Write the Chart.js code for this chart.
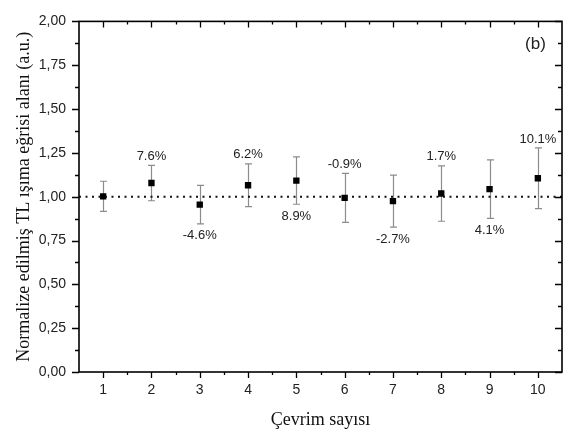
<!DOCTYPE html>
<html>
<head>
<meta charset="utf-8">
<script src="https://cdn.jsdelivr.net/npm/chart.js@4.4.1/dist/chart.umd.min.js"></script>
<style>
html,body{margin:0;padding:0;background:#fff;}
#wrap{width:572px;height:437px;}
</style>
</head>
<body>
<div id="wrap"><canvas id="c" width="572" height="437"></canvas></div>
<script>
const cycles = [1, 2, 3, 4, 5, 6, 7, 8, 9, 10];
const values = [1.002, 1.078, 0.955, 1.065, 1.092, 0.993, 0.975, 1.018, 1.043, 1.105];
const errors = [0.086, 0.101, 0.110, 0.122, 0.135, 0.140, 0.148, 0.158, 0.167, 0.173];
const labels = ['', '7.6%', '-4.6%', '6.2%', '8.9%', '-0.9%', '-2.7%', '1.7%', '4.1%', '10.1%'];
const labelSide = ['', 'above', 'below', 'above', 'below', 'above', 'below', 'above', 'below', 'above'];
const refLevel = 1.0;
const xRange = [0.5, 10.5];
const yRange = [0, 2];
const yTickStep = 0.25;
const panelLabel = '(b)';

const points = cycles.map((c, i) => ({x: c, y: values[i]}));

const decor = {
  id: 'decor',
  beforeDatasetsDraw(chart) {
    const {ctx, scales: {x, y}} = chart;
    ctx.save();
    ctx.strokeStyle = '#8c8c8c';
    ctx.lineWidth = 1.2;
    cycles.forEach((c, i) => {
      const px = Math.round(x.getPixelForValue(c)) + 0.5;
      const top = y.getPixelForValue(values[i] + errors[i]);
      const bot = y.getPixelForValue(values[i] - errors[i]);
      ctx.beginPath();
      ctx.moveTo(px, top); ctx.lineTo(px, bot);
      ctx.moveTo(px - 3.5, top); ctx.lineTo(px + 3.5, top);
      ctx.moveTo(px - 3.5, bot); ctx.lineTo(px + 3.5, bot);
      ctx.stroke();
    });
    ctx.restore();
  },
  afterDraw(chart) {
    const {ctx, chartArea: a, scales: {x, y}} = chart;
    ctx.save();
    // frame
    ctx.strokeStyle = '#000';
    ctx.lineWidth = 1.6;
    ctx.strokeRect(a.left, a.top, a.right - a.left, a.bottom - a.top);
    ctx.lineWidth = 1.3;
    ctx.beginPath();
    // x ticks
    for (let v = 1; v <= 10.0001; v += 0.5) {
      const px = Math.round(x.getPixelForValue(v)) + 0.5;
      const major = Math.abs(v - Math.round(v)) < 1e-6;
      const len = major ? 6 : 3;
      ctx.moveTo(px, a.bottom); ctx.lineTo(px, a.bottom + len);
      ctx.moveTo(px, a.top); ctx.lineTo(px, a.top + len);
    }
    // y ticks
    for (let v = 0; v <= 2.0001; v += yTickStep / 2) {
      const py = Math.round(y.getPixelForValue(v)) + 0.5;
      const major = Math.abs(v / yTickStep - Math.round(v / yTickStep)) < 1e-6;
      const len = major ? 7 : 4;
      ctx.moveTo(a.left, py); ctx.lineTo(a.left - len, py);
      ctx.moveTo(a.right, py); ctx.lineTo(a.right - len, py);
    }
    ctx.stroke();
    // percentage labels
    ctx.fillStyle = '#222';
    ctx.font = '13px "Liberation Sans", Arial, sans-serif';
    ctx.textAlign = 'center';
    ctx.textBaseline = 'middle';
    cycles.forEach((c, i) => {
      if (!labels[i]) return;
      const px = x.getPixelForValue(c);
      if (labelSide[i] === 'above') {
        ctx.fillText(labels[i], px, y.getPixelForValue(values[i] + errors[i]) - 9);
      } else {
        ctx.fillText(labels[i], px, y.getPixelForValue(values[i] - errors[i]) + 12);
      }
    });
    // panel label
    ctx.font = '17px "Liberation Sans", Arial, sans-serif';
    ctx.fillText(panelLabel, x.getPixelForValue(9.95), y.getPixelForValue(1.87));
    ctx.restore();
  }
};

new Chart(document.getElementById('c'), {
  type: 'scatter',
  data: {
    datasets: [
      {
        type: 'line',
        data: [{x: xRange[0], y: refLevel}, {x: xRange[1], y: refLevel}],
        borderColor: '#111',
        borderWidth: 2,
        borderDash: [2, 4.5],
        pointRadius: 0,
        fill: false
      },
      {
        data: points,
        pointStyle: 'rect',
        pointRadius: 4.5,
        pointBackgroundColor: '#000',
        pointBorderColor: '#000',
        pointBorderWidth: 0
      }
    ]
  },
  plugins: [decor],
  options: {
    responsive: false,
    devicePixelRatio: 1,
    animation: false,
    layout: {padding: {top: 12, right: 10, left: 0, bottom: 0}},
    plugins: {legend: {display: false}, tooltip: {enabled: false}},
    scales: {
      x: {
        type: 'linear',
        min: xRange[0], max: xRange[1],
        afterFit(s) { s.height = 65; },
        afterBuildTicks(s) { s.ticks = cycles.map(v => ({value: v})); },
        grid: {display: false, drawTicks: false},
        border: {display: false},
        ticks: {
          padding: 10,
          color: '#222',
          font: {family: '"Liberation Sans", Arial, sans-serif', size: 14},
          callback: v => String(v)
        },
        title: {
          display: true,
          text: 'Çevrim sayısı',
          color: '#111',
          font: {family: '"Liberation Serif", "Times New Roman", serif', size: 18},
          padding: {top: 0, bottom: 6}
        }
      },
      y: {
        min: yRange[0], max: yRange[1],
        afterFit(s) { s.width = 79; },
        grid: {display: false, drawTicks: false},
        border: {display: false},
        ticks: {
          stepSize: yTickStep,
          padding: 13,
          color: '#222',
          font: {family: '"Liberation Sans", Arial, sans-serif', size: 14},
          callback: v => v.toFixed(2).replace('.', ',')
        },
        title: {
          display: true,
          text: 'Normalize edilmiş TL ışıma eğrisi alanı (a.u.)',
          color: '#111',
          font: {family: '"Liberation Serif", "Times New Roman", serif', size: 18},
          padding: {top: 13, bottom: 0}
        }
      }
    }
  }
});
</script>
</body>
</html>
